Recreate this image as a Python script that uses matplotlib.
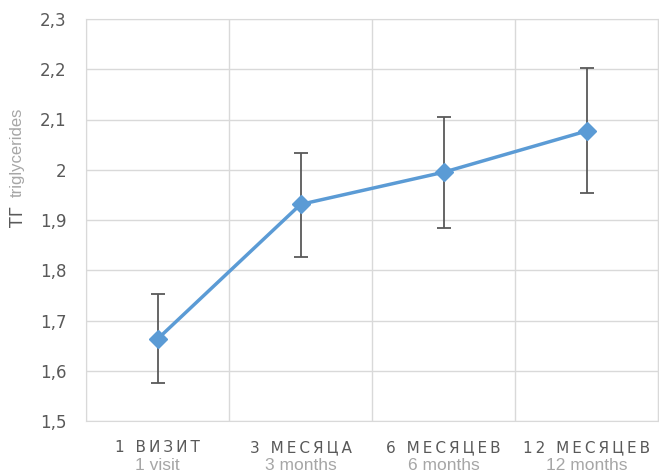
import numpy as np
import matplotlib.pyplot as plt
from matplotlib import font_manager

# Triglyceride level by visit, with asymmetric error bars
labels_ru = ["1 ВИЗИТ", "3 МЕСЯЦА", "6 МЕСЯЦЕВ", "12 МЕСЯЦЕВ"]
labels_en = ["1 visit", "3 months", "6 months", "12 months"]
tg_mean = [1.663, 1.931, 1.995, 2.077]
tg_upper = [1.752, 2.033, 2.105, 2.202]
tg_lower = [1.576, 1.827, 1.884, 1.953]

installed = {f.name for f in font_manager.fontManager.ttflist}
narrow = "Liberation Sans Narrow" if "Liberation Sans Narrow" in installed else "Liberation Sans"

W, H = 659, 473
fig = plt.figure(figsize=(W / 100, H / 100), dpi=100)
ax = fig.add_axes([86 / W, 52 / H, 572 / W, 402 / H])

x = np.arange(len(tg_mean))
mean = np.array(tg_mean)
yerr = [mean - np.array(tg_lower), np.array(tg_upper) - mean]

ax.errorbar(x, mean, yerr=yerr, fmt="none", ecolor="#595959",
            elinewidth=1.3, capsize=5, capthick=1.3, zorder=3)
ax.plot(x, mean, "-D", color="#5b9bd5", linewidth=2.5,
        markersize=9, zorder=4)

ax.set_xlim(-0.5, len(tg_mean) - 0.5)
ax.set_ylim(1.5, 2.3)
yt = np.arange(1.5, 2.31, 0.1)
ax.set_yticks(yt)
ax.set_yticklabels([f"{v:.1f}".replace(".", ",").replace(",0", "") for v in yt],
                   fontsize=12, color="#595959")
ax.tick_params(axis="y", length=0, pad=14)
ax.set_xticks(x)
ax.set_xticklabels([])

# horizontal grid plus category separators
ax.set_xticks(np.arange(-0.5, len(tg_mean)), minor=True)
ax.tick_params(axis="x", which="both", length=0)
ax.grid(axis="y", color="#d9d9d9", linewidth=1)
ax.grid(axis="x", which="minor", color="#d9d9d9", linewidth=1)
for s in ax.spines.values():
    s.set_color("#d9d9d9")

# two-line category labels, Russian letter-spaced
xt = ax.get_xaxis_transform()
for xi, ru, en in zip(x, labels_ru, labels_en):
    spaced = "\u2009".join(ru)
    ax.text(xi, -0.077, spaced, transform=xt, ha="center", va="baseline",
            fontsize=11, color="#595959")
    ax.text(xi, -0.122, en, transform=xt, ha="center", va="baseline",
            fontsize=12.5, color="#a6a6a6", family="Liberation Sans")

fig.text(18 / W, 1 - 216 / H, "ТГ", rotation=90, ha="center", va="center",
         fontsize=12.5, color="#595959")
fig.text(17 / W, 1 - 152 / H, "triglycerides", rotation=90, ha="center",
         va="center", fontsize=12, color="#a6a6a6", family=narrow)

fig.savefig("out.png", dpi=100)
